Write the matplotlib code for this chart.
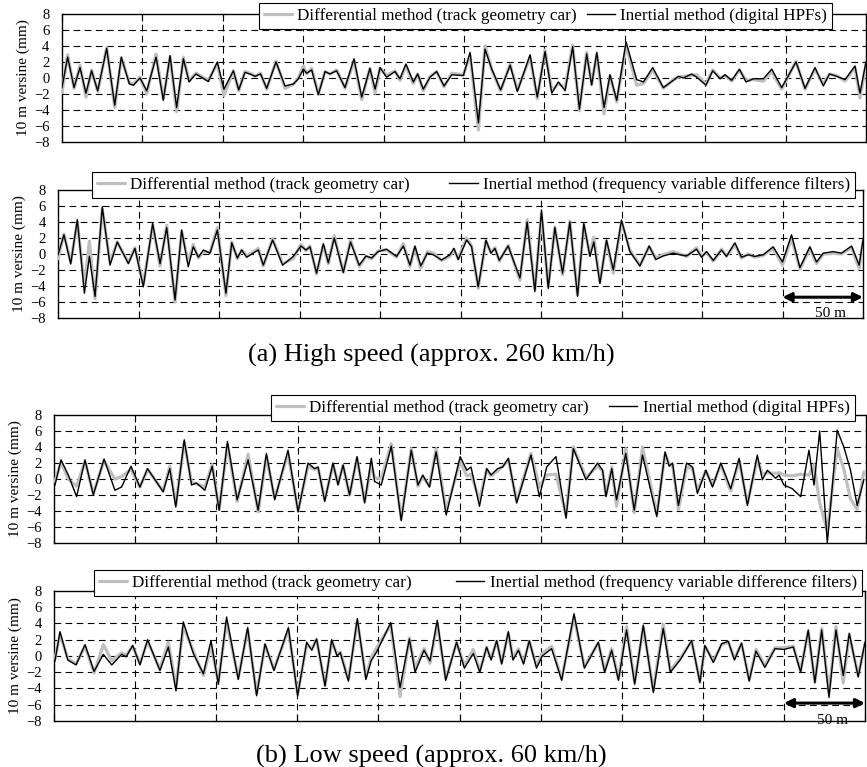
import matplotlib
matplotlib.use("Agg")
import matplotlib.pyplot as plt

plt.rcParams['font.family'] = ['Liberation Serif', 'DejaVu Serif']

# ---- data (distance in m, 10 m versine in mm) ----
# (a) high speed, digital HPFs
x_a1 = [0.0, 3.5, 7.5, 11.2, 14.9, 18.4, 22.2, 27.8, 32.8, 36.9, 41.9, 44.4, 48.5, 52.7, 58.5, 63.0,
        67.2, 71.3, 75.5, 79.0, 83.3, 85.8, 91.0, 96.6, 100.7, 106.6, 109.9, 113.8, 118.0, 120.0, 123.5,
        127.3, 133.1, 138.7, 143.9, 147.0, 150.1, 152.2, 155.3, 159.4, 163.6, 166.7, 170.8, 176.0, 181.6,
        186.4, 191.5, 194.7, 197.8, 201.9, 207.1, 210.2, 213.9, 218.5, 221.2, 224.7, 228.9, 233.0, 237.6,
        242.4, 249.6, 253.8, 259.0, 263.1, 267.3, 272.8, 278.7, 283.2, 291.1, 295.6, 300.4, 304.6, 308.7,
        312.9, 317.6, 321.8, 326.3, 329.4, 332.6, 337.1, 340.8, 345.0, 350.8, 357.4, 361.6, 367.4, 374.0,
        380.2, 383.3, 386.5, 391.6, 394.7, 400.5, 404.7, 409.3, 412.4, 416.5, 421.3, 425.4, 430.0, 436.2,
        441.4, 447.6, 456.5, 462.1, 468.3, 473.5, 477.3, 481.8, 487.0, 493.2, 496.3, 500.0]
inertial_a1 = [-1.2, 2.6, -1.2, 1.3, -1.9, 0.9, -1.6, 3.7, -3.4, 2.6, -0.75, -0.9, 0.0, -1.6, 2.6, -2.8,
               2.8, -3.7, 2.4, -0.5, 0.5, 0.2, -0.45, 2.0, -1.4, 0.9, -1.5, 0.7, 0.4, 0.2, 0.5,
               -1.3, 2.0, -1.0, -0.75, -0.1, 1.1, 0.6, 1.0, -2.1, 0.8, 0.5, 0.9, -1.2, 2.4,
               -2.4, 1.2, -1.4, 1.3, 0.1, 0.8, -0.1, 1.75, -0.5, 0.5, -1.4, 0.1, 0.8, -1.0,
               0.4, 0.3, 3.2, -5.6, 3.6, 1.1, -1.5, 1.6, -1.7, 2.9, -2.4, 3.3, -1.9, -0.5,
               -1.6, 3.9, -3.9, 3.0, -0.9, 3.2, -3.7, 0.4, -2.8, 4.5, -0.2, -0.5, 1.3, -1.2,
               -0.3, 0.2, 0.0, 0.5, 0.1, -0.9, 0.9, -0.1, 0.4, -0.3, 1.1, -0.5, -0.1, -0.1,
               1.1, -1.2, 2.0, -1.3, 1.3, -1.0, 0.5, 0.2, -0.2, 1.5, -1.9, 2.0]
diff_a1 = [-1.8, 2.9, -1.3, 1.6, -2.4, 1.0, -1.7, 3.8, -3.7, 2.5, -0.6, -0.8, 0.1, -2.0, 3.0, -2.6,
           2.6, -4.2, 2.6, -0.3, 0.6, 0.3, -0.3, 1.8, -2.2, 0.9, -1.6, 0.8, 0.5, 0.2, 0.6,
           -1.4, 2.1, -1.3, -0.8, 0.0, 1.5, 0.5, 1.2, -2.0, 0.8, 0.5, 1.0, -1.3, 2.1,
           -2.7, 1.2, -1.9, 1.2, 0.3, 0.9, -0.3, 1.5, -0.7, 0.5, -1.6, 0.2, 0.8, -1.1,
           0.6, 0.4, 2.8, -6.5, 4.0, 1.0, -1.6, 1.7, -1.5, 2.6, -2.6, 3.5, -1.6, -0.7,
           -1.2, 4.1, -4.1, 3.2, -0.8, 3.0, -4.5, 0.3, -3.0, 4.0, -0.9, -0.7, 1.0, -1.3,
           -0.2, 0.1, 0.2, 0.3, 0.4, -0.8, 1.0, 0.0, 0.3, -0.4, 1.0, -0.3, -0.2, -0.4,
           0.8, -1.4, 2.1, -1.4, 1.1, -0.8, 0.5, 0.3, -0.4, 1.3, -2.5, 1.6]

# (a) high speed, frequency variable difference filters
x_a2 = [0.0, 3.7, 7.9, 12.0, 16.4, 19.5, 23.0, 27.5, 32.3, 36.8, 43.7, 47.8, 53.0, 58.8, 63.4, 67.5,
        72.7, 76.8, 80.9, 84.0, 87.2, 90.3, 94.4, 99.0, 104.3, 107.9, 111.4, 114.1, 117.2, 124.4, 127.5,
        133.3, 139.5, 146.1, 150.9, 154.0, 156.5, 160.6, 164.8, 167.9, 171.6, 177.2, 181.7, 187.1, 191.3,
        194.8, 198.9, 204.1, 210.3, 214.5, 218.6, 221.7, 225.3, 229.4, 233.1, 238.2, 243.4, 245.9, 248.6,
        253.8, 256.9, 261.0, 265.8, 268.9, 271.4, 274.1, 279.6, 286.9, 291.4, 296.2, 300.3, 304.5, 308.6,
        313.4, 317.9, 322.7, 326.6, 330.4, 332.8, 336.6, 340.7, 344.9, 350.0, 355.2, 361.4, 367.2, 371.3,
        375.9, 382.1, 386.3, 390.4, 396.6, 399.7, 402.8, 407.0, 412.1, 415.2, 420.4, 424.5, 428.7, 432.8,
        438.0, 444.2, 450.0, 455.6, 460.8, 467.0, 471.1, 475.3, 481.5, 486.6, 492.9, 497.6, 500.0]
inertial_a2 = [-0.1, 2.4, -1.25, 4.3, -4.9, -0.3, -5.3, 5.9, -1.4, 1.5, -1.2, 0.7, -4.1, 3.8, -1.2, 3.3,
               -5.75, 3.0, -1.6, 0.9, -0.4, 0.5, 0.1, 3.0, -4.9, 1.4, -0.5, 0.5, -0.4, 0.5, -1.4,
               1.75, -1.4, -0.3, 1.0, 0.5, 0.9, -2.4, 1.3, -1.1, 2.0, -2.3, 1.5, -1.4, -0.25,
               -0.5, 0.3, 0.6, -0.3, 1.0, -1.4, 1.0, -1.5, 0.1, -0.1, -0.75, -0.1, 0.7, -0.7,
               1.75, 0.9, -4.1, 1.75, 0.1, 0.7, -0.8, 1.0, -3.0, 4.0, -4.7, 5.5, -4.3, 3.3,
               -2.4, 4.0, -5.3, 3.8, -0.3, 1.5, -3.7, 1.75, -2.0, 4.25, 0.3, -1.5, 1.0, -0.7,
               -0.25, 0.1, -0.1, -0.25, 0.6, -0.4, 0.3, -0.8, 0.5, -0.3, 1.4, -0.4, -0.1, -0.3,
               -0.1, 0.9, -1.0, 2.4, -1.7, 0.9, -1.0, 0.1, 0.3, 0.1, 1.0, -1.4, 1.75]
diff_a2 = [-0.6, 2.5, -1.0, 4.0, -4.0, 1.6, -5.6, 5.6, -1.0, 1.5, -1.1, 0.8, -3.8, 3.6, -1.5, 3.6,
           -6.0, 2.8, -1.0, 1.2, -0.5, 0.3, 0.2, 3.3, -5.2, 1.5, -0.6, 0.5, -0.3, 0.7, -1.5,
           1.9, -1.2, -0.6, 1.2, 0.4, 1.0, -2.5, 1.1, -1.2, 2.3, -2.3, 1.7, -1.6, -0.3,
           -0.6, 0.4, 0.5, -0.4, 1.3, -1.6, 0.8, -1.8, 0.3, 0.1, -0.8, -0.3, 0.6, -0.6,
           2.0, 1.0, -4.3, 1.6, 0.2, 0.8, -0.9, 1.1, -3.3, 4.3, -4.5, 5.0, -4.1, 3.4,
           -2.6, 4.1, -5.1, 3.6, -0.1, 2.1, -3.5, 1.6, -2.4, 4.0, 0.5, -1.4, 0.9, -0.5,
           -0.1, 0.3, 0.0, -0.3, 0.8, -0.3, 0.2, -0.9, 0.6, -0.3, 1.2, -0.5, 0.0, -0.4,
           -0.2, 0.7, -1.4, 2.0, -1.9, 0.7, -1.2, 0.0, 0.1, 0.0, 0.8, -1.8, 1.5]

# (b) low speed, digital HPFs
x_b1 = [0.6, 4.3, 8.8, 13.9, 19.1, 24.2, 30.8, 37.5, 41.6, 47.4, 52.9, 57.6, 67.2, 71.3, 75.0, 80.2,
        84.7, 87.7, 92.9, 97.4, 101.7, 106.8, 112.8, 119.5, 125.7, 130.8, 135.9, 144.1, 150.3, 156.4,
        160.5, 162.6, 166.7, 171.8, 174.9, 178.0, 182.0, 186.6, 191.3, 195.4, 197.4, 201.5, 207.7, 213.8,
        220.0, 224.1, 227.1, 231.2, 235.3, 241.5, 250.1, 254.2, 256.8, 262.0, 266.5, 269.1, 273.2, 276.3,
        279.8, 284.9, 293.7, 298.9, 303.4, 309.1, 315.3, 319.8, 327.6, 334.7, 337.8, 339.9, 343.5, 346.4,
        352.1, 357.3, 362.4, 371.2, 376.3, 378.8, 380.9, 384.5, 389.5, 393.2, 396.2, 401.4, 405.5, 410.6,
        416.7, 421.9, 427.0, 433.1, 436.2, 439.3, 444.4, 446.5, 449.5, 454.6, 459.8, 464.9, 468.0, 471.5,
        476.2, 482.3, 486.4, 490.5, 494.6, 498.7]
inertial_b1 = [-0.75, 2.4, 0.5, -2.2, 2.4, -2.0, 2.5, -1.4, -1.0, 1.6, -1.0, 1.3, -1.6, 1.3, -3.5, 4.9,
               -0.75, -0.5, -1.4, 1.6, -3.9, 4.7, -2.6, 2.4, -3.9, 3.2, -2.6, 3.6, -4.1, 2.0,
               1.3, 1.5, -2.8, 2.0, -0.75, 1.75, -2.0, 2.8, -3.0, 2.6, -0.3, -0.75, 4.1, -5.2,
               3.6, -0.75, 0.5, -1.0, 3.4, -4.5, 2.8, 1.1, 1.5, -3.4, 1.3, 0.5, 1.3, 1.5,
               2.6, -3.0, 3.0, -2.2, 1.5, 2.8, -4.9, 3.8, -0.1, 2.0, 1.1, -2.2, 1.3, -2.6,
               3.2, -3.9, 3.0, -4.7, 3.4, 1.6, 2.0, -3.3, 2.0, 1.5, -1.8, 1.1, -1.0, 2.0,
               -1.2, 2.6, -3.3, 3.0, -0.1, 1.1, 0.1, 0.5, -0.75, -1.2, -2.2, 3.6, -0.75, 6.0,
               -8.0, 6.1, 4.0, 1.1, -3.3, -0.1]
diff_b1 = [-0.3, 2.1, 0.0, -0.9, 2.2, -1.8, 2.3, 0.0, 0.3, 1.2, -1.0, 1.2, -1.5, 1.6, -3.2, 4.6,
           -0.4, -0.6, -1.0, 1.8, -3.8, 4.3, -2.8, 3.1, -4.1, 2.8, -2.4, 3.2, -4.0, 1.6,
           1.2, 1.4, -2.6, 1.8, -0.6, 1.7, -2.0, 2.6, -2.8, 1.8, 0.2, 0.0, 4.4, -5.0,
           3.8, -0.9, 0.3, -0.9, 3.8, -3.9, 2.2, 0.4, 0.6, -2.6, 1.2, 0.4, 1.0, 1.6,
           2.4, -2.8, 3.2, -1.0, 0.5, 0.6, -4.5, 4.0, 0.2, 1.6, 1.0, -2.0, 1.5, -3.4,
           3.8, -4.2, 4.0, -4.4, 3.2, 1.8, 1.8, -3.8, 1.5, 1.3, -1.4, 1.0, -0.8, 1.8,
           -1.5, 2.3, -3.0, 2.4, 0.6, 0.8, 0.7, 0.8, 0.5, 0.4, 0.6, 0.5, 1.8, -3.0,
           -6.5, 3.8, 1.2, -2.5, -3.8, 0.9]

# (b) low speed, frequency variable difference filters
x_b2 = [0.6, 3.7, 8.5, 13.6, 19.1, 24.7, 30.4, 35.6, 41.7, 44.5, 48.5, 53.0, 57.7, 65.3, 70.5, 75.2,
        79.7, 85.9, 92.1, 96.8, 101.3, 106.4, 113.6, 119.4, 124.9, 130.1, 135.6, 144.5, 150.2, 155.8,
        158.9, 161.9, 167.1, 171.2, 174.5, 176.5, 181.5, 187.0, 192.3, 195.5, 198.9, 207.6, 213.3, 219.1,
        222.6, 228.1, 231.8, 236.3, 241.5, 248.2, 253.0, 258.5, 262.5, 266.7, 269.5, 272.9, 276.0, 280.1,
        283.0, 286.3, 289.5, 293.0, 297.5, 301.0, 306.8, 313.0, 320.6, 327.0, 335.6, 339.5, 343.8, 348.0,
        353.0, 358.0, 363.3, 369.5, 375.6, 380.0, 386.0, 393.1, 398.2, 401.3, 406.5, 411.6, 415.7, 419.5,
        423.9, 428.6, 432.8, 438.3, 444.5, 450.0, 455.8, 460.3, 465.0, 469.1, 473.3, 477.8, 482.1, 486.6,
        490.3, 495.8, 500.0]
inertial_b2 = [-0.6, 3.0, -0.5, -1.1, 1.4, -1.9, 0.2, -1.1, 0.2, -0.1, 1.3, -1.1, 2.0, -1.8, 1.1, -4.3,
               4.2, 0.3, -2.2, 1.9, -3.5, 4.8, -2.9, 3.5, -4.9, 1.5, -1.8, 3.5, -4.9, 1.7,
               0.7, 2.1, -3.7, 2.0, 0.0, 0.4, -3.1, 4.6, -2.9, -0.6, 0.5, 4.1, -3.9, 2.1,
               -2.0, 0.7, -0.6, 4.4, -3.0, 1.7, -1.5, 0.3, -2.0, 1.1, -0.5, 1.9, -1.0, 3.0,
               -0.5, 0.7, -1.0, 1.9, -1.5, 0.0, 0.9, -3.0, 5.2, -1.5, 1.7, -2.0, 0.7, -3.0,
               3.2, -3.5, 3.8, -4.5, 3.4, -2.0, -0.5, 1.9, -3.3, 1.3, -0.8, 1.5, 1.8, -0.5,
               1.6, -3.1, 0.6, -1.4, 0.9, 0.8, 1.1, -2.0, 3.2, -3.3, 3.2, -5.1, 3.2, -2.4,
               2.8, -2.6, 1.7]
diff_b2 = [-0.3, 2.6, -0.3, -1.0, 1.2, -2.1, 1.4, -0.6, 0.4, 0.1, 1.2, -0.9, 1.8, -1.6, 1.7, -3.8,
           3.6, 0.6, -2.4, 1.3, -3.1, 4.2, -2.7, 3.2, -4.6, 1.3, -1.6, 3.2, -4.7, 1.4,
           0.9, 2.0, -3.6, 1.8, 0.2, 0.5, -2.9, 4.3, -2.6, -0.2, 1.0, 3.8, -5.0, 2.2,
           -1.5, 0.9, -0.9, 4.0, -2.8, 1.6, -1.2, 0.8, -1.8, 1.0, -0.3, 1.8, -0.8, 2.8,
           -0.3, 0.9, -0.8, 1.8, -1.2, 0.3, 1.2, -2.8, 4.8, -1.3, 1.6, -1.8, 0.9, -2.8,
           3.6, -3.2, 3.6, -4.2, 3.9, -1.8, -0.3, 1.8, -3.1, 1.2, -0.6, 1.4, 1.7, -0.3,
           1.5, -2.9, 0.8, -1.2, 1.0, 1.0, 1.2, -1.8, 3.0, -3.2, 3.4, -4.6, 3.6, -3.3,
           2.6, -2.4, 1.5]

legend_diff = 'Differential method (track geometry car)'
legend_hpf = 'Inertial method (digital HPFs)'
legend_fvdf = 'Inertial method (frequency variable difference filters)'
ylabel = '10 m versine (mm)'
title_a = '(a) High speed (approx. 260 km/h)'
title_b = '(b) Low speed (approx. 60 km/h)'

fig = plt.figure(figsize=(8.67, 7.67), dpi=100)

# axes rectangles in figure fraction
rects = [[0.0715, 0.8149, 0.9273, 0.1669],
         [0.0669, 0.5854, 0.9285, 0.1669],
         [0.0623, 0.2920, 0.9365, 0.1669],
         [0.0623, 0.0600, 0.9354, 0.1695]]
panels = [(x_a1, diff_a1, inertial_a1, legend_hpf, (0.958, 1.085), 0.6),
          (x_a2, diff_a2, inertial_a2, legend_fvdf, (0.990, 1.140), 2.3),
          (x_b1, diff_b1, inertial_b1, legend_hpf, (0.986, 1.155), 1.2),
          (x_b2, diff_b2, inertial_b2, legend_fvdf, (0.996, 1.160), 2.6)]

for i, (rect, (xs, gy, ky, lab, anchor, colsp)) in enumerate(zip(rects, panels)):
    ax = fig.add_axes(rect)
    l1, = ax.plot(xs, gy, color='#bfbfbf', lw=2.3, solid_joinstyle='round',
                  solid_capstyle='round', zorder=3)
    l2, = ax.plot(xs, ky, color='black', lw=1.0, solid_joinstyle='round', zorder=4)
    ax.set_xlim(0, 500)
    ax.set_ylim(-8, 8)
    ax.set_yticks(range(-8, 9, 2))
    ax.set_xticks(range(0, 501, 50))
    ax.set_xticklabels([])
    for yv in range(-6, 7, 2):
        ax.axhline(yv, color='black', lw=0.8, ls=(0, (6, 4)), zorder=1)
    for xv in range(50, 500, 50):
        ax.axvline(xv, color='black', lw=0.8, ls=(0, (6, 4)), zorder=1)
    ax.tick_params(axis='y', length=0, pad=9, labelsize=10.5)
    ax.tick_params(axis='x', direction='in', length=5, top=True, width=0.8)
    for sp in ax.spines.values():
        sp.set_linewidth(1.0)
    ax.set_ylabel(ylabel, fontsize=11, labelpad=3)
    leg = ax.legend([l1, l2], [legend_diff, lab], ncol=2, loc='upper right',
                    bbox_to_anchor=anchor, fontsize=12.3, frameon=True, fancybox=False,
                    edgecolor='black', framealpha=1, handlelength=1.65, handletextpad=0.3,
                    columnspacing=colsp, borderpad=0.3, borderaxespad=0)
    leg.get_frame().set_linewidth(0.8)
    leg.set_zorder(10)
    if i in (1, 3):
        yarr = -5.4 if i == 1 else -5.8
        ax.annotate('', xy=(450, yarr), xytext=(500, yarr),
                    arrowprops=dict(arrowstyle='<|-|>', color='black', lw=2.2,
                                    mutation_scale=13, shrinkA=0, shrinkB=0),
                    annotation_clip=False, zorder=6)
        ax.text(480, yarr - 2.1, '50 m', ha='center', va='center', fontsize=11, zorder=6)

fig.text(0.498, 0.537, title_a, ha='center', va='center', fontsize=19)
fig.text(0.498, 0.014, title_b, ha='center', va='center', fontsize=19)

fig.savefig('out.png', dpi=100)
